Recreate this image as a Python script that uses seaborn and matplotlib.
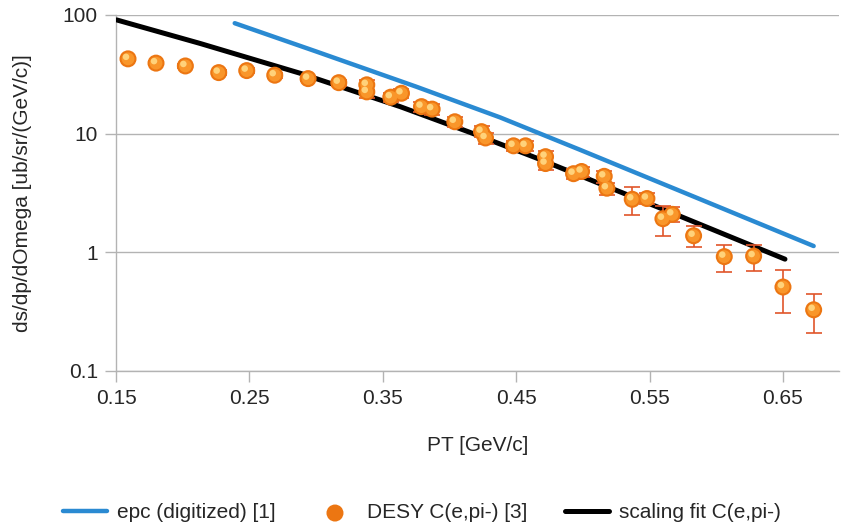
import matplotlib
matplotlib.use("Agg")
import matplotlib.pyplot as plt
import matplotlib.transforms as mtransforms
import seaborn as sns
import pandas as pd

# ---- data ----
epc_pt = [0.239, 0.300, 0.375, 0.438, 0.498, 0.588, 0.673]
epc_val = [85.3, 49.3, 24.9, 13.7, 7.30, 2.80, 1.13]

fit_pt = [0.1505, 0.213, 0.288, 0.363, 0.4154, 0.4654, 0.558, 0.6515]
fit_val = [90.9, 57.6, 32.3, 16.9, 10.25, 6.22, 2.36, 0.876]

desy_pt = [0.159, 0.180, 0.202, 0.227, 0.248, 0.269, 0.294, 0.317, 0.338, 0.338,
           0.356, 0.364, 0.379, 0.387, 0.404, 0.424, 0.427, 0.448, 0.457, 0.472,
           0.472, 0.493, 0.499, 0.516, 0.518, 0.537, 0.548, 0.560, 0.567, 0.583,
           0.606, 0.628, 0.650, 0.673]
desy_val = [42.7, 39.3, 37.2, 32.7, 34.0, 31.1, 29.1, 26.9, 25.8, 22.5,
            20.3, 21.9, 16.9, 16.1, 12.6, 10.4, 9.2, 7.9, 7.9, 6.4,
            5.6, 4.6, 4.8, 4.37, 3.47, 2.80, 2.84, 1.92, 2.09, 1.38,
            0.92, 0.93, 0.51, 0.328]
desy_err = [1.5, 1.5, 1.5, 1.5, 1.5, 1.5, 1.5, 1.5, 2.5, 2.5,
            1.8, 1.8, 1.6, 1.6, 1.2, 1.1, 1.0, 0.8, 0.8, 0.8,
            0.7, 0.45, 0.45, 0.5, 0.4, 0.75, 0.3, 0.55, 0.3, 0.28,
            0.24, 0.23, 0.2, 0.12]

x_ticks = [0.15, 0.25, 0.35, 0.45, 0.55, 0.65]
x_labels = ["0.15", "0.25", "0.35", "0.45", "0.55", "0.65"]
y_ticks = [0.1, 1, 10, 100]
y_labels = ["0.1", "1", "10", "100"]

label_epc = "epc (digitized) [1]"
label_desy = "DESY C(e,pi-) [3]"
label_fit = "scaling fit C(e,pi-)"

sns.set_style("white")
plt.rcParams['font.family'] = ['Liberation Sans', 'DejaVu Sans']

fig = plt.figure(figsize=(8.44, 5.28), dpi=100)
ax = fig.add_axes([116/844, 1-371/528, (839-116)/844, (371-15)/528])

epc_df = pd.DataFrame({"pt": epc_pt, "val": epc_val})
fit_df = pd.DataFrame({"pt": fit_pt, "val": fit_val})
desy_df = pd.DataFrame({"pt": desy_pt, "val": desy_val, "err": desy_err})

ax.set_yscale("log")

sns.lineplot(data=epc_df, x="pt", y="val", ax=ax, color="#2a8ad2", lw=3.2,
             label=label_epc, zorder=3)

ax.errorbar(desy_df["pt"], desy_df["val"], yerr=desy_df["err"], fmt="none",
            ecolor="#e0552a", elinewidth=1.2, capsize=6, capthick=1.2, zorder=4)
sns.scatterplot(data=desy_df, x="pt", y="val", ax=ax, s=150, color="#ec7612",
                edgecolor="none", label=label_desy, zorder=5)
sns.scatterplot(data=desy_df, x="pt", y="val", ax=ax, s=85, color="#f9962a",
                edgecolor="none", legend=False, zorder=6)
hl = mtransforms.offset_copy(ax.transData, fig=fig, x=-2, y=2, units="dots")
ax.scatter(desy_df["pt"], desy_df["val"], s=22, color="#ffd27a",
           edgecolor="none", transform=hl, zorder=7)

sns.lineplot(data=fit_df, x="pt", y="val", ax=ax, color="black", lw=3.6,
             label=label_fit, zorder=3.5)

ax.set_xlim(0.15, 0.692)
ax.set_ylim(0.1, 100)
ax.set_xticks(x_ticks, labels=x_labels)
ax.set_yticks(y_ticks, labels=y_labels)
ax.minorticks_off()
ax.yaxis.grid(True, color="#b3b3b3", lw=1.0)
ax.xaxis.grid(False)
for s in ["top", "right"]:
    ax.spines[s].set_visible(False)
for s in ["left", "bottom"]:
    ax.spines[s].set_color("#b3b3b3")
    ax.spines[s].set_linewidth(1.0)
ax.tick_params(axis="both", which="major", direction="out", length=8,
               width=1.0, color="#b3b3b3", labelsize=15, pad=5,
               bottom=True, left=True)
ax.set_xlabel("PT [GeV/c]", fontsize=15, labelpad=20)
ax.set_ylabel("ds/dp/dOmega [ub/sr/(GeV/c)]", fontsize=15, labelpad=22)

handles, labels = ax.get_legend_handles_labels()
ax.legend(handles, labels, loc="center", bbox_to_anchor=(0.5, 1-513/528),
          bbox_transform=fig.transFigure, ncol=3, frameon=False, fontsize=15,
          handlelength=2.1, columnspacing=1.8, handletextpad=0.5)

fig.savefig("out.png", dpi=100)
